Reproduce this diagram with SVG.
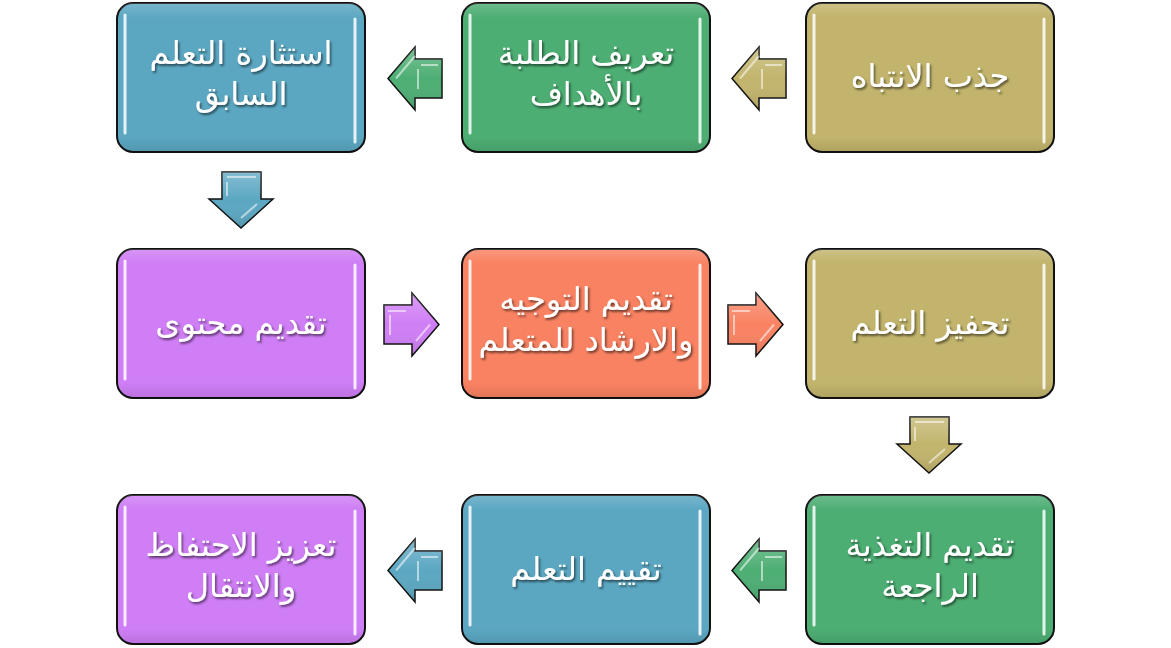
<svg xmlns="http://www.w3.org/2000/svg" width="1171" height="648" viewBox="0 0 1171 648">
<style>
.box{stroke:#111;stroke-width:2}
.olive{fill:#C2B46C}
.green{fill:#4DAE73}
.blue{fill:#5BA7C2}
.purple{fill:#CF7EF5}
.salmon{fill:#F98262}
.hl{stroke:#fff;stroke-width:3;stroke-linecap:round;opacity:0.85;fill:none}
.gloss{fill:url(#edge)}
.lbl{font-family:"DejaVu Sans","Liberation Sans",sans-serif;font-size:32px;fill:#fff;text-anchor:middle;filter:url(#sh)}
.arr{stroke:#111;stroke-width:1.5;stroke-linejoin:miter}
.bev{fill:none;stroke:#fff;stroke-width:2;opacity:0.55}
</style>
<defs>
<filter id="sh" x="-10%" y="-20%" width="120%" height="150%">
<feDropShadow dx="1.5" dy="2" stdDeviation="1" flood-color="#000" flood-opacity="0.55"/>
</filter>
<linearGradient id="edge" x1="0" y1="0" x2="0" y2="1">
<stop offset="0" stop-color="#fff" stop-opacity="0.18"/>
<stop offset="0.1" stop-color="#fff" stop-opacity="0"/>
<stop offset="0.9" stop-color="#000" stop-opacity="0"/>
<stop offset="1" stop-color="#000" stop-opacity="0.1"/>
</linearGradient>
<linearGradient id="ag" x1="0" y1="0" x2="0" y2="1">
<stop offset="0" stop-color="#fff" stop-opacity="0.25"/>
<stop offset="0.5" stop-color="#fff" stop-opacity="0"/>
<stop offset="1" stop-color="#000" stop-opacity="0.12"/>
</linearGradient>
<polygon id="la" points="0,31.5 27,0 27,12 54,12 54,51 27,51 27,63"/>
<polygon id="ra" points="0,12 28,12 28,0 55,31.5 28,63 28,51 0,51"/>
<polygon id="da" points="13,0 52,0 52,27 64,27 32,56 0,27 13,27"/>
</defs>
<rect width="1171" height="648" fill="#fff"/>

<g id="connectors">
<g transform="translate(388,47)"><use href="#la" class="arr green"/><use href="#la" fill="url(#ag)"/><polyline class="bev" points="8,31.5 27,9 "/><polyline class="bev" points="33,18 50,18"/><line class="bev" x1="30" y1="22" x2="30" y2="42"/></g>
<g transform="translate(732,47)"><use href="#la" class="arr olive"/><use href="#la" fill="url(#ag)"/><polyline class="bev" points="8,31.5 27,9"/><polyline class="bev" points="33,18 50,18"/><line class="bev" x1="30" y1="22" x2="30" y2="42"/></g>
<g transform="translate(209,172)"><use href="#da" class="arr blue"/><use href="#da" fill="url(#ag)"/><polyline class="bev" points="18,5 47,5"/><line class="bev" x1="32" y1="46" x2="48" y2="32"/><line class="bev" x1="18" y1="10" x2="18" y2="24"/></g>
<g transform="translate(384,293)"><use href="#ra" class="arr purple"/><use href="#ra" fill="url(#ag)"/><polyline class="bev" points="4,18 22,18"/><line class="bev" x1="6" y1="22" x2="6" y2="42"/><line class="bev" x1="46" y1="31.5" x2="32" y2="48"/></g>
<g transform="translate(728,293)"><use href="#ra" class="arr salmon"/><use href="#ra" fill="url(#ag)"/><polyline class="bev" points="4,18 22,18"/><line class="bev" x1="6" y1="22" x2="6" y2="42"/><line class="bev" x1="46" y1="31.5" x2="32" y2="48"/></g>
<g transform="translate(897,417)"><use href="#da" class="arr olive"/><use href="#da" fill="url(#ag)"/><polyline class="bev" points="18,5 47,5"/><line class="bev" x1="32" y1="46" x2="48" y2="32"/><line class="bev" x1="18" y1="10" x2="18" y2="24"/></g>
<g transform="translate(732,539)"><use href="#la" class="arr green"/><use href="#la" fill="url(#ag)"/><polyline class="bev" points="8,31.5 27,9"/><polyline class="bev" points="33,18 50,18"/><line class="bev" x1="30" y1="22" x2="30" y2="42"/></g>
<g transform="translate(388,539)"><use href="#la" class="arr blue"/><use href="#la" fill="url(#ag)"/><polyline class="bev" points="8,31.5 27,9"/><polyline class="bev" points="33,18 50,18"/><line class="bev" x1="30" y1="22" x2="30" y2="42"/></g>
</g>

<g id="n1">
<rect class="box olive" x="806" y="3" width="248" height="149" rx="16"/>
<rect class="gloss" x="806" y="3" width="248" height="149" rx="16"/>
<line class="hl" x1="814" y1="15" x2="814" y2="133"/><line class="hl" x1="1044" y1="19" x2="1044" y2="142"/>
<text class="lbl" x="930" y="87" direction="rtl">جذب الانتباه</text>
</g>
<g id="n2">
<rect class="box green" x="462" y="3" width="248" height="149" rx="16"/>
<rect class="gloss" x="462" y="3" width="248" height="149" rx="16"/>
<line class="hl" x1="470" y1="15" x2="470" y2="133"/><line class="hl" x1="700" y1="19" x2="700" y2="142"/>
<text class="lbl" x="586" y="64" direction="rtl">تعريف الطلبة</text>
<text class="lbl" x="586" y="105" direction="rtl">بالأهداف</text>
</g>
<g id="n3">
<rect class="box blue" x="117" y="3" width="248" height="149" rx="16"/>
<rect class="gloss" x="117" y="3" width="248" height="149" rx="16"/>
<line class="hl" x1="125" y1="15" x2="125" y2="133"/><line class="hl" x1="355" y1="19" x2="355" y2="142"/>
<text class="lbl" x="241" y="64" direction="rtl">استثارة التعلم</text>
<text class="lbl" x="241" y="105" direction="rtl">السابق</text>
</g>
<g id="n4">
<rect class="box purple" x="117" y="249" width="248" height="149" rx="16"/>
<rect class="gloss" x="117" y="249" width="248" height="149" rx="16"/>
<line class="hl" x1="125" y1="261" x2="125" y2="379"/><line class="hl" x1="355" y1="265" x2="355" y2="388"/>
<text class="lbl" x="241" y="334" direction="rtl">تقديم محتوى</text>
</g>
<g id="n5">
<rect class="box salmon" x="462" y="249" width="248" height="149" rx="16"/>
<rect class="gloss" x="462" y="249" width="248" height="149" rx="16"/>
<line class="hl" x1="470" y1="261" x2="470" y2="379"/><line class="hl" x1="700" y1="265" x2="700" y2="388"/>
<text class="lbl" x="586" y="310" direction="rtl">تقديم التوجيه</text>
<text class="lbl" x="586" y="351" direction="rtl">والارشاد للمتعلم</text>
</g>
<g id="n6">
<rect class="box olive" x="806" y="249" width="248" height="149" rx="16"/>
<rect class="gloss" x="806" y="249" width="248" height="149" rx="16"/>
<line class="hl" x1="814" y1="261" x2="814" y2="379"/><line class="hl" x1="1044" y1="265" x2="1044" y2="388"/>
<text class="lbl" x="930" y="334" direction="rtl">تحفيز التعلم</text>
</g>
<g id="n7">
<rect class="box green" x="806" y="495" width="248" height="149" rx="16"/>
<rect class="gloss" x="806" y="495" width="248" height="149" rx="16"/>
<line class="hl" x1="814" y1="507" x2="814" y2="625"/><line class="hl" x1="1044" y1="511" x2="1044" y2="634"/>
<text class="lbl" x="930" y="556" direction="rtl">تقديم التغذية</text>
<text class="lbl" x="930" y="597" direction="rtl">الراجعة</text>
</g>
<g id="n8">
<rect class="box blue" x="462" y="495" width="248" height="149" rx="16"/>
<rect class="gloss" x="462" y="495" width="248" height="149" rx="16"/>
<line class="hl" x1="470" y1="507" x2="470" y2="625"/><line class="hl" x1="700" y1="511" x2="700" y2="634"/>
<text class="lbl" x="586" y="580" direction="rtl">تقييم التعلم</text>
</g>
<g id="n9">
<rect class="box purple" x="117" y="495" width="248" height="149" rx="16"/>
<rect class="gloss" x="117" y="495" width="248" height="149" rx="16"/>
<line class="hl" x1="125" y1="507" x2="125" y2="625"/><line class="hl" x1="355" y1="511" x2="355" y2="634"/>
<text class="lbl" x="241" y="556" direction="rtl">تعزيز الاحتفاظ</text>
<text class="lbl" x="241" y="597" direction="rtl">والانتقال</text>
</g>
</svg>
